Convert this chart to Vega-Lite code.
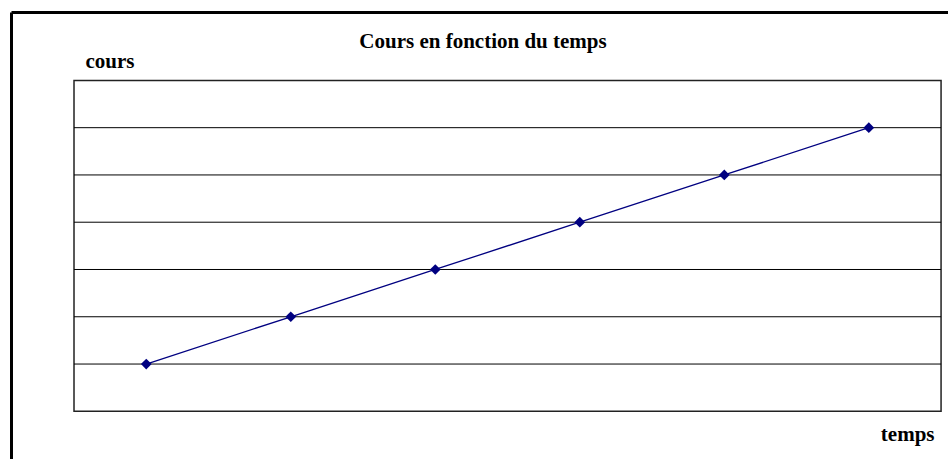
{
  "$schema": "https://vega.github.io/schema/vega-lite/v6.json",
  "width": 937,
  "height": 447,
  "autosize": "none",
  "padding": {"left": 11, "top": 12, "right": 0, "bottom": 0},
  "background": "white",
  "config": {
    "view": {"stroke": null},
    "font": "Liberation Serif"
  },
  "title": {
    "text": "Cours en fonction du temps",
    "font": "Liberation Serif",
    "fontSize": 21,
    "fontWeight": "bold",
    "color": "black",
    "anchor": "middle",
    "frame": "group",
    "orient": "top",
    "offset": 0,
    "baseline": "alphabetic",
    "dx": 3.5,
    "dy": 57
  },
  "datasets": {
    "serie": [
      {"temps": 1, "cours": 1},
      {"temps": 2, "cours": 2},
      {"temps": 3, "cours": 3},
      {"temps": 4, "cours": 4},
      {"temps": 5, "cours": 5},
      {"temps": 6, "cours": 6}
    ],
    "grille": [
      {"niveau": 1}, {"niveau": 2}, {"niveau": 3},
      {"niveau": 4}, {"niveau": 5}, {"niveau": 6}
    ]
  },
  "layer": [
    {
      "data": {"values": [{}]},
      "mark": {"type": "rect", "fill": "white", "stroke": "#222222", "strokeWidth": 1.5},
      "encoding": {
        "x": {"datum": 0.5, "type": "quantitative", "scale": {"domain": [0.064, 6.548], "nice": false, "zero": false},
          "axis": {"orient": "top", "domain": true, "domainColor": "black", "domainWidth": 3, "ticks": false, "labels": false, "grid": false,
            "title": "temps", "titleFont": "Liberation Serif", "titleFontSize": 21, "titleFontWeight": "bold", "titleColor": "black",
            "titleX": 923, "titleY": 428, "titleAlign": "right", "titleBaseline": "alphabetic", "titleAnchor": null}},
        "x2": {"datum": 6.5},
        "y": {"datum": 0, "type": "quantitative", "scale": {"domain": [-1.009, 8.447], "nice": false, "zero": false},
          "axis": {"orient": "left", "domain": true, "domainColor": "black", "domainWidth": 3, "ticks": false, "labels": false, "grid": false,
            "title": "cours", "titleFont": "Liberation Serif", "titleFontSize": 21, "titleFontWeight": "bold", "titleColor": "black",
            "titleAngle": 0, "titleX": 74, "titleY": 55, "titleAlign": "left", "titleBaseline": "alphabetic", "titleAnchor": null}},
        "y2": {"datum": 7}
      }
    },
    {
      "data": {"name": "grille"},
      "mark": {"type": "rule", "color": "black", "strokeWidth": 1},
      "encoding": {
        "x": {"datum": 0.5, "type": "quantitative", "scale": {"domain": [0.064, 6.548], "nice": false, "zero": false}},
        "x2": {"datum": 6.5},
        "y": {"field": "niveau", "type": "quantitative", "scale": {"domain": [-1.009, 8.447], "nice": false, "zero": false}}
      }
    },
    {
      "data": {"name": "serie"},
      "mark": {"type": "line", "color": "#000080", "strokeWidth": 1.3,
        "point": {"shape": "diamond", "size": 115, "filled": true, "color": "#000080"}},
      "encoding": {
        "x": {"field": "temps", "type": "quantitative", "scale": {"domain": [0.064, 6.548], "nice": false, "zero": false}},
        "y": {"field": "cours", "type": "quantitative", "scale": {"domain": [-1.009, 8.447], "nice": false, "zero": false}}
      }
    }
  ]
}
